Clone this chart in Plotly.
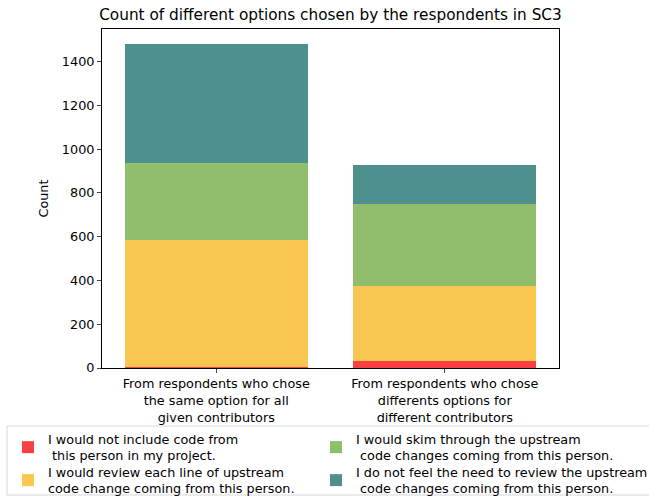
import plotly.graph_objects as go

categories = ["From respondents who chose<br>the same option for all<br>given contributors",
              "From respondents who chose<br>differents options for<br>different contributors"]
series_names = ["I would not include code from<br> this person in my project.",
                "I would review each line of upstream<br>code change coming from this person.",
                "I would skim through the upstream<br> code changes coming from this person.",
                "I do not feel the need to review the upstream<br> code changes coming from this person."]
not_include = [5, 33]
review_each = [580, 342]
skim = [351, 375]
no_review = [546, 179]
colors = ["#F94144", "#F9C74F", "#90BE6D", "#4D908E"]
legend_ids = ["legend", "legend2", "legend3", "legend4"]

fig = go.Figure()
for name, vals, col, lg in zip(series_names, [not_include, review_each, skim, no_review], colors, legend_ids):
    fig.add_trace(go.Bar(x=[0, 1], y=vals, name=name, marker=dict(color=col, line=dict(width=0)),
                         width=0.8, legend=lg))

W, H = 649, 496
L, R, T, B = 102, 90, 29, 128


def px(x):
    return (x - L) / (W - L - R)


def py(y):
    return (H - B - y) / (H - T - B)


font = "DejaVu Sans"
FS = 12.8
leg_common = dict(orientation="v", xref="paper", yref="paper", xanchor="left", yanchor="top",
                  bgcolor="rgba(0,0,0,0)", borderwidth=0, font=dict(size=FS), itemwidth=30,
                  traceorder="normal", tracegroupgap=0)
fig.update_layout(
    barmode="stack",
    width=W, height=H,
    margin=dict(l=L, r=R, t=T, b=B, autoexpand=False),
    plot_bgcolor="white", paper_bgcolor="white",
    font=dict(family=font, size=FS, color="black"),
    title=dict(text="Count of different options chosen by the respondents in SC3",
               x=0.5, xref="paper", yref="container", y=1 - 15 / H, yanchor="middle",
               font=dict(size=15.3)),
    xaxis=dict(range=[-0.5, 1.5], tickvals=[0, 1], ticktext=categories, showline=True,
               linecolor="black", linewidth=1, mirror=True, ticks="outside", ticklen=4,
               showgrid=False, zeroline=False, automargin=False),
    yaxis=dict(range=[0, 1549], tickvals=[0, 200, 400, 600, 800, 1000, 1200, 1400],
               showline=True, linecolor="black", linewidth=1, mirror=True, ticks="outside",
               ticklen=4, showgrid=False, zeroline=False, automargin=False,
               title=dict(text="Count", standoff=10, font=dict(size=FS))),
    legend=dict(x=px(8), y=py(424), **leg_common),
    legend2=dict(x=px(8), y=py(457), **leg_common),
    legend3=dict(x=px(316), y=py(424), **leg_common),
    legend4=dict(x=px(316), y=py(457), **leg_common),
    shapes=[dict(type="rect", xref="paper", yref="paper", x0=px(7), x1=px(670), y0=py(495), y1=py(426),
                 line=dict(color="#d6d6d6", width=1), fillcolor="rgba(0,0,0,0)", layer="below")],
    showlegend=True,
)
fig.write_html("out.html", config={"displayModeBar": False},
               post_script="document.body.style.margin='0';")
